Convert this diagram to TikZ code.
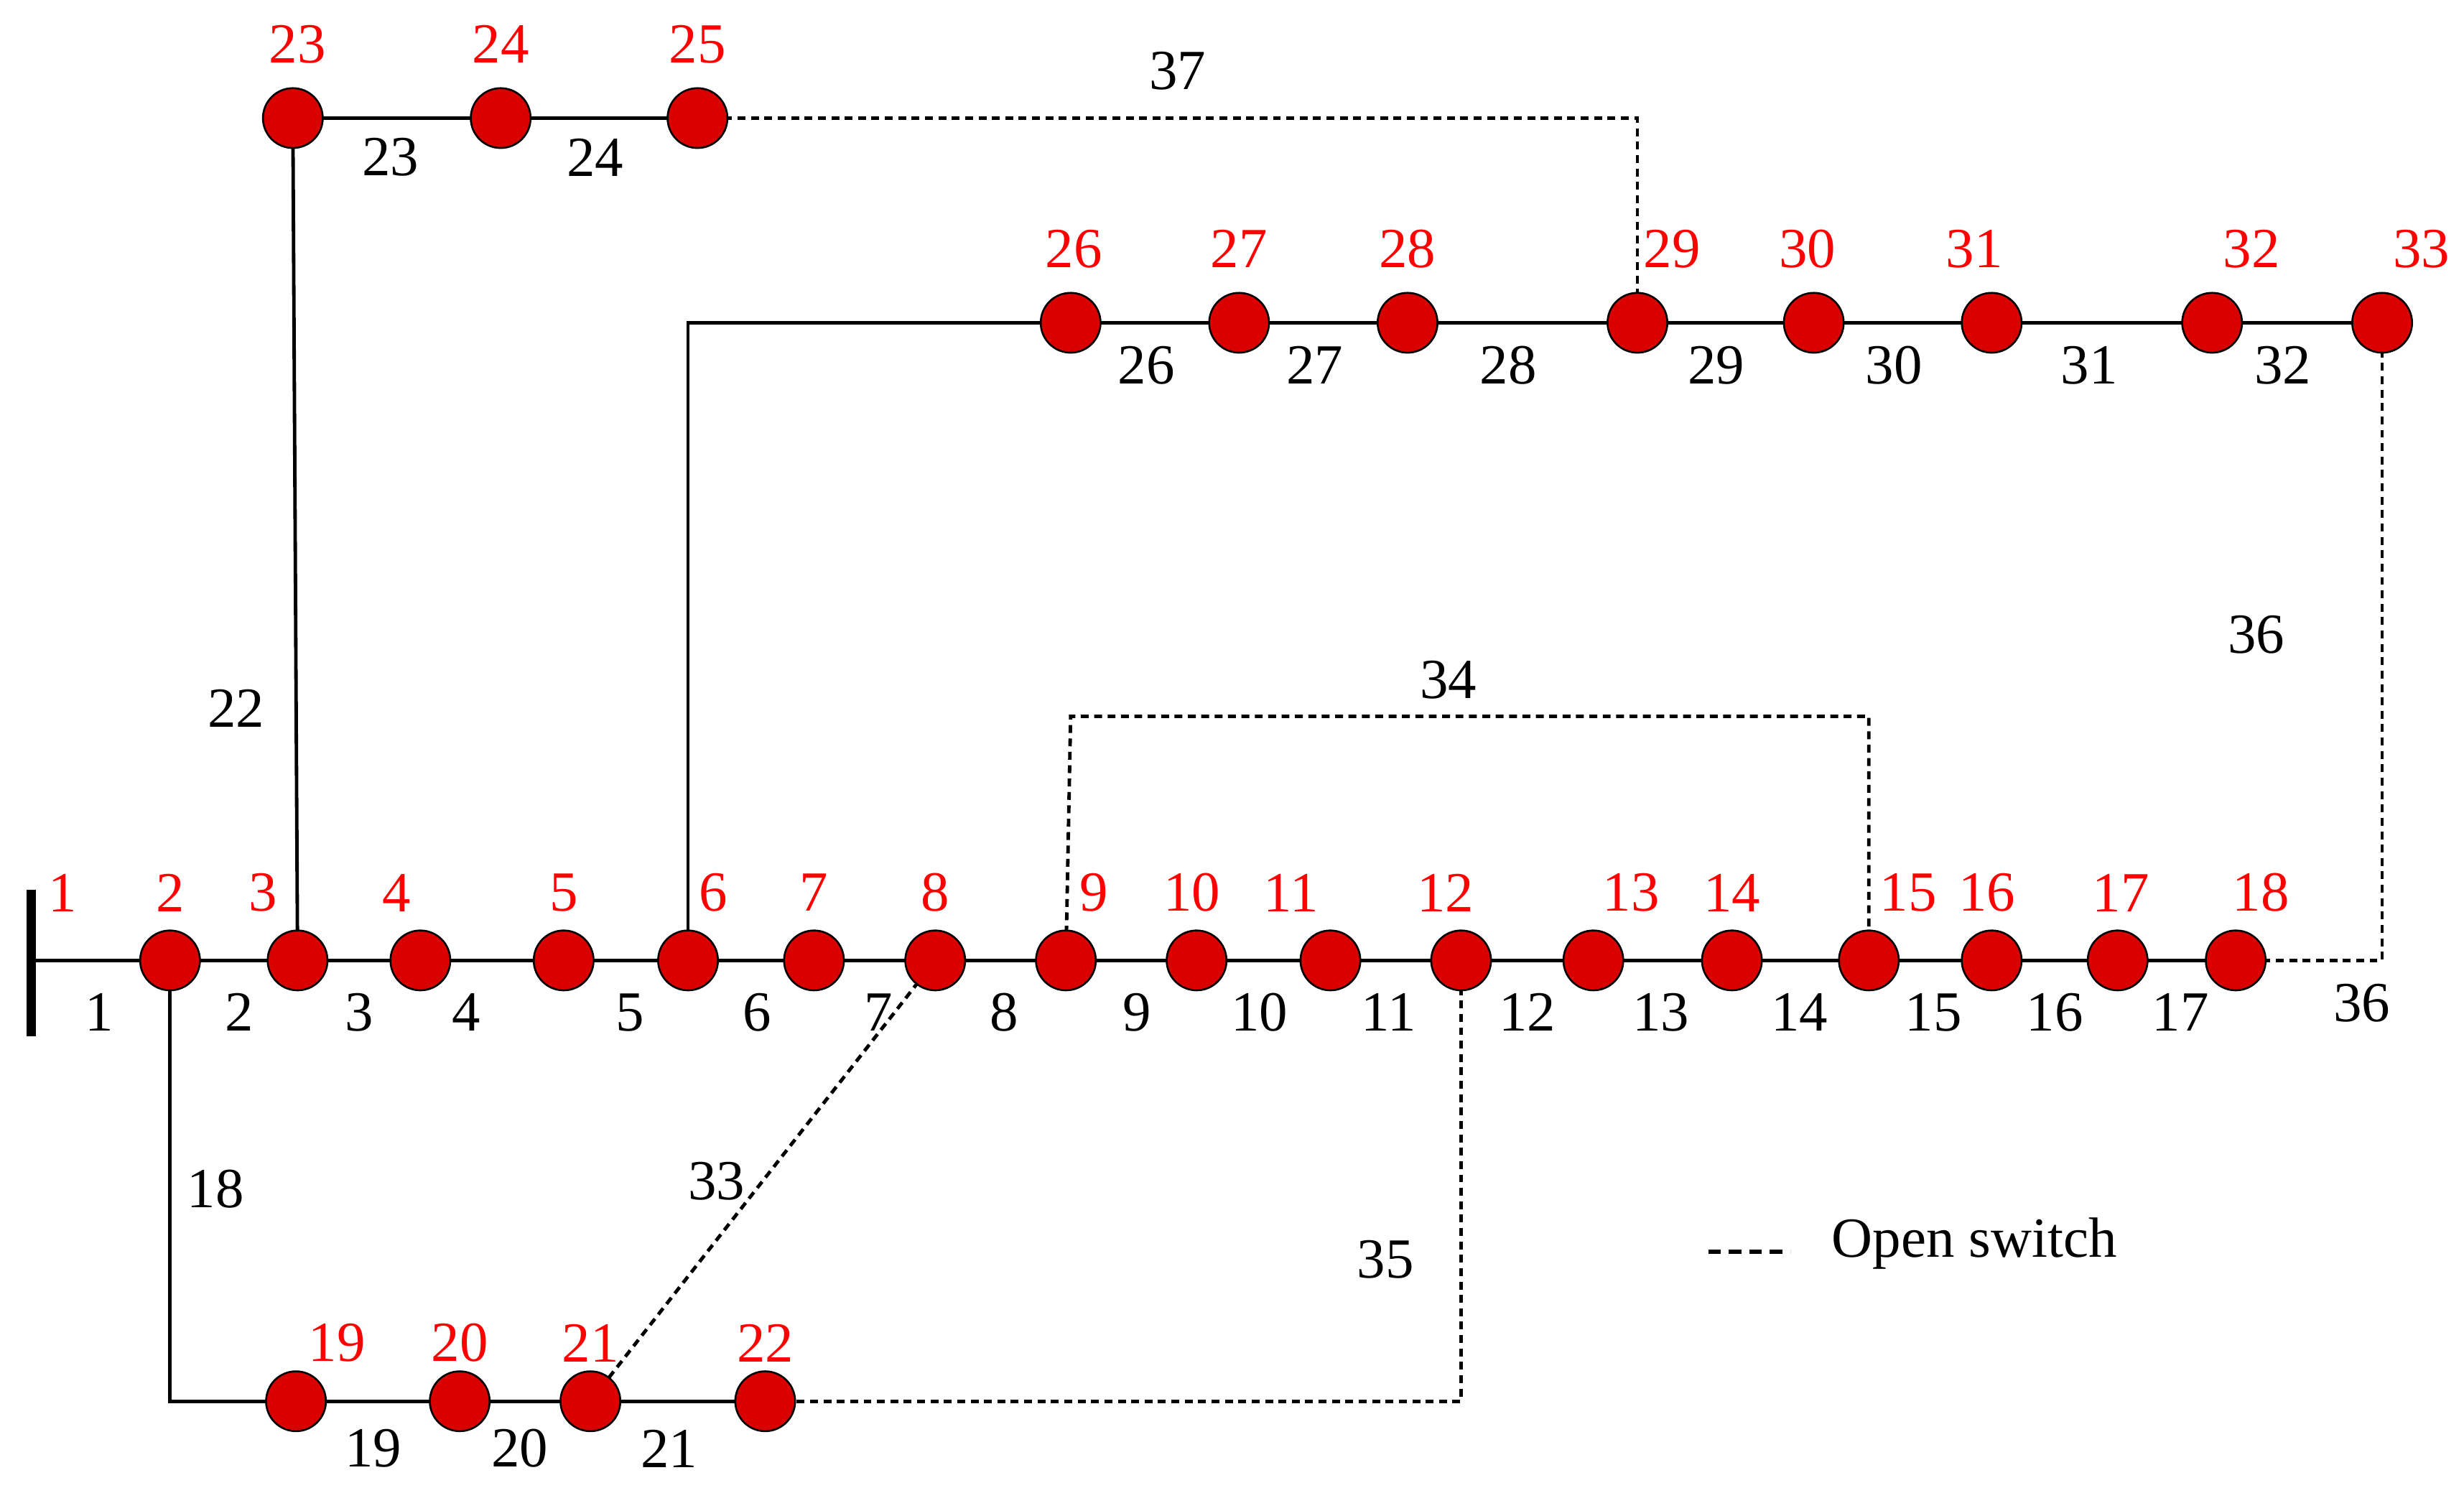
\documentclass[tikz,border=0pt]{standalone}
\usepackage{fontspec}
\setmainfont{Liberation Serif}
\begin{document}
\begin{tikzpicture}[x=1pt,y=-1pt,
  bus/.style={circle,fill=red!85!black,draw=black,line width=1.2pt,minimum size=38pt,inner sep=0pt},
  ln/.style={line width=2.2pt},
  op/.style={line width=2.2pt,dash pattern=on 5pt off 3.5pt},
  rl/.style={text=red,font=\fontsize{36}{40}\selectfont},
  bl/.style={text=black,font=\fontsize{36}{40}\selectfont}]
\useasboundingbox (0,0) rectangle (1565,945);
% bus bar
\coordinate (b0) at (20,610);
\draw[line width=6pt] (20,565) -- (20,658);
% nodes main row
\foreach \n/\x in {2/108,3/189,4/267,5/358,6/437,7/517,8/594,9/677,10/760,11/845,12/928,13/1012,14/1100,15/1187,16/1265,17/1345,18/1420}
  \coordinate (n\n) at (\x,610);
\foreach \n/\x in {26/680,27/787,28/894,29/1040,30/1152,31/1265,32/1405,33/1513}
  \coordinate (n\n) at (\x,205);
\foreach \n/\x in {23/186,24/318,25/443}
  \coordinate (n\n) at (\x,75);
\foreach \n/\x in {19/188,20/292,21/375,22/486}
  \coordinate (n\n) at (\x,890);
% solid lines
\draw[ln] (b0) -- (n2) -- (n3) -- (n4) -- (n5) -- (n6) -- (n7) -- (n8) -- (n9) -- (n10) -- (n11) -- (n12) -- (n13) -- (n14) -- (n15) -- (n16) -- (n17) -- (n18);
\draw[ln] (n26) -- (n27) -- (n28) -- (n29) -- (n30) -- (n31) -- (n32) -- (n33);
\draw[ln] (n23) -- (n24) -- (n25);
\draw[ln] (n19) -- (n20) -- (n21) -- (n22);
\draw[ln] (n3) -- (n23);
\draw[ln] (n6) |- (n26);
\draw[ln] (n2) |- (n19);
% open switches
\coordinate (c37) at (1040,75);
\draw[op] (n25) -- (c37) -- (n29);
\draw[op] (n8) -- (n21);
\coordinate (c34a) at (680,455); \coordinate (c34b) at (1187,455);
\draw[op] (n9) -- (c34a) -- (c34b) -- (n15);
\coordinate (c35) at (928,890);
\draw[op] (n12) -- (c35) -- (n22);
\coordinate (c36) at (1513,610);
\draw[op] (n18) -- (c36) -- (n33);
% bus circles
\foreach \n in {2,...,33} \node[bus] (m\n) at (n\n) {};
% red labels
\node[rl] at (40,567) {1};
\foreach \n/\x/\y in {2/108/567,3/167/567,4/252/567,5/358/567,6/453/567,7/517/567,8/594/567,9/695/567,10/757/567,11/820/567,12/918/567,13/1036/567,14/1100/567,15/1212/567,16/1262/567,17/1347/567,18/1436/567,19/214/853,20/292/853,21/375/853,22/486/853,23/189/28,24/318/28,25/443/28,26/682/158,27/787/158,28/894/158,29/1062/158,30/1148/158,31/1254/158,32/1430/158,33/1538/158}
  \node[rl] at (\x,\y) {\n};
% branch labels
\foreach \t/\x/\y in {1/63/643,2/152/643,3/228/643,4/296/643,5/400/643,6/481/643,7/558/643,8/638/643,9/722/643,10/800/643,11/882/643,12/970/643,13/1055/643,14/1143/643,15/1228/643,16/1305/643,17/1385/643,36/1500/637,18/137/755,19/237/920,20/330/920,21/425/920,22/150/450,23/248/100,24/378/100,26/728/232,27/835/232,28/958/232,29/1090/232,30/1203/232,31/1327/232,32/1450/232,33/455/750,34/920/432,35/880/800,36/1433/403,37/748/45}
  \node[bl] at (\x,\y) {\t};
% legend
\coordinate (l1) at (1085,795); \coordinate (l2) at (1137,795);
\draw[line width=3pt,dash pattern=on 8pt off 5pt] (l1) -- (l2);
\node[bl,anchor=west] (leg) at (1160,790) {Open switch};
\end{tikzpicture}
\end{document}
